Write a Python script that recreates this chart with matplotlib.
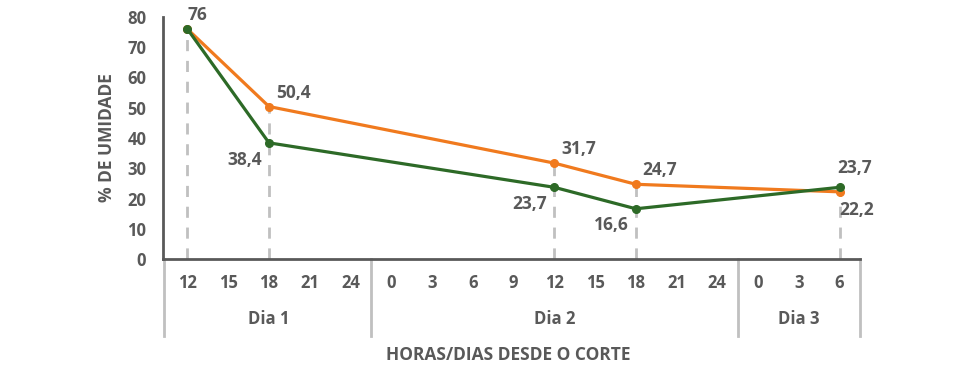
import matplotlib.pyplot as plt
import matplotlib.transforms as mtransforms

# categorical x axis: hours within each day
hour_labels = ["12", "15", "18", "21", "24",
               "0", "3", "6", "9", "12", "15", "18", "21", "24",
               "0", "3", "6"]
days = ["Dia 1", "Dia 2", "Dia 3"]
day_sizes = [5, 9, 3]

# measured points (category index -> value)
point_idx = [0, 2, 9, 11, 16]
orange_vals = [76, 50.4, 31.7, 24.7, 22.2]
green_vals = [76, 38.4, 23.7, 16.6, 23.7]

orange_labels = ["", "50,4", "31,7", "24,7", "22,2"]
green_labels = ["76", "38,4", "23,7", "16,6", "23,7"]

ORANGE = "#F07A1E"
GREEN = "#2D6A27"
TXT = "#595959"
LGRAY = "#C0C0C0"

plt.rcParams['font.family'] = ['Open Sans', 'DejaVu Sans']

fig = plt.figure(figsize=(9.79, 3.76), dpi=100)
ax = fig.add_axes([163 / 979, 1 - 259 / 376, (860 - 163) / 979, (259 - 17) / 376])

# dashed drop lines from the highest value down to the axis
for i, o, g in zip(point_idx, orange_vals, green_vals):
    ax.plot([i, i], [0, max(o, g)], color=LGRAY, lw=2, ls=(0, (4, 3.5)), zorder=1)

ax.plot(point_idx, orange_vals, color=ORANGE, lw=2.3, marker="o", ms=5.5, zorder=3)
ax.plot(point_idx, green_vals, color=GREEN, lw=2.3, marker="o", ms=5.5, zorder=4)

lab_kw = dict(textcoords="offset points", fontsize=12.5, fontweight="bold", color=TXT)
# orange labels: up-right, last one below-right
for i, v, s in zip(point_idx, orange_vals, orange_labels):
    if not s:
        continue
    if i == 16:
        ax.annotate(s, (i, v), xytext=(0, -13), ha="left", va="center", **lab_kw)
    else:
        ax.annotate(s, (i, v), xytext=(5, 10), ha="left", va="center", **lab_kw)
# green labels
for i, v, s in zip(point_idx, green_vals, green_labels):
    if i == 0:
        ax.annotate(s, (i, v), xytext=(0, 10), ha="left", va="center", **lab_kw)
    elif i == 16:
        ax.annotate(s, (i, v), xytext=(-2, 14), ha="left", va="center", **lab_kw)
    else:
        ax.annotate(s, (i, v), xytext=(-5, -12), ha="right", va="center", **lab_kw)

ax.set_xlim(-0.6, 16.5)
ax.set_ylim(0, 80)
ax.set_yticks(range(0, 81, 10))
ax.set_xticks(range(len(hour_labels)))
ax.set_xticklabels(hour_labels)
ax.tick_params(axis="both", length=0, labelsize=12, labelcolor=TXT)
ax.tick_params(axis="x", pad=11)
ax.tick_params(axis="y", pad=12)
for t in ax.get_xticklabels() + ax.get_yticklabels():
    t.set_fontweight("bold")

for side in ["top", "right"]:
    ax.spines[side].set_visible(False)
for side in ["left", "bottom"]:
    ax.spines[side].set_color(TXT)
    ax.spines[side].set_linewidth(2)

# day group separators and labels under the axis
trans = mtransforms.blended_transform_factory(ax.transData, ax.transAxes)
start = -0.5
for n in day_sizes:
    start += n
    ax.plot([start, start], [0, -0.32], color=LGRAY, lw=2, transform=trans, clip_on=False)
ax.plot([-0.58, -0.58], [0, -0.32], color=LGRAY, lw=2, transform=trans, clip_on=False)

pos = -0.5
for d, n in zip(days, day_sizes):
    ax.text(pos + n / 2, -0.25, d, transform=trans, ha="center", va="center",
            fontsize=12, fontweight="bold", color=TXT)
    pos += n

ax.set_ylabel("% DE UMIDADE", fontsize=12.5, fontweight="bold", color=TXT, labelpad=8)
fig.text(508 / 979, 1 - 355 / 376, "HORAS/DIAS DESDE O CORTE", ha="center", va="center",
         fontsize=12.5, fontweight="bold", color=TXT)

fig.savefig("out.png", dpi=100)
